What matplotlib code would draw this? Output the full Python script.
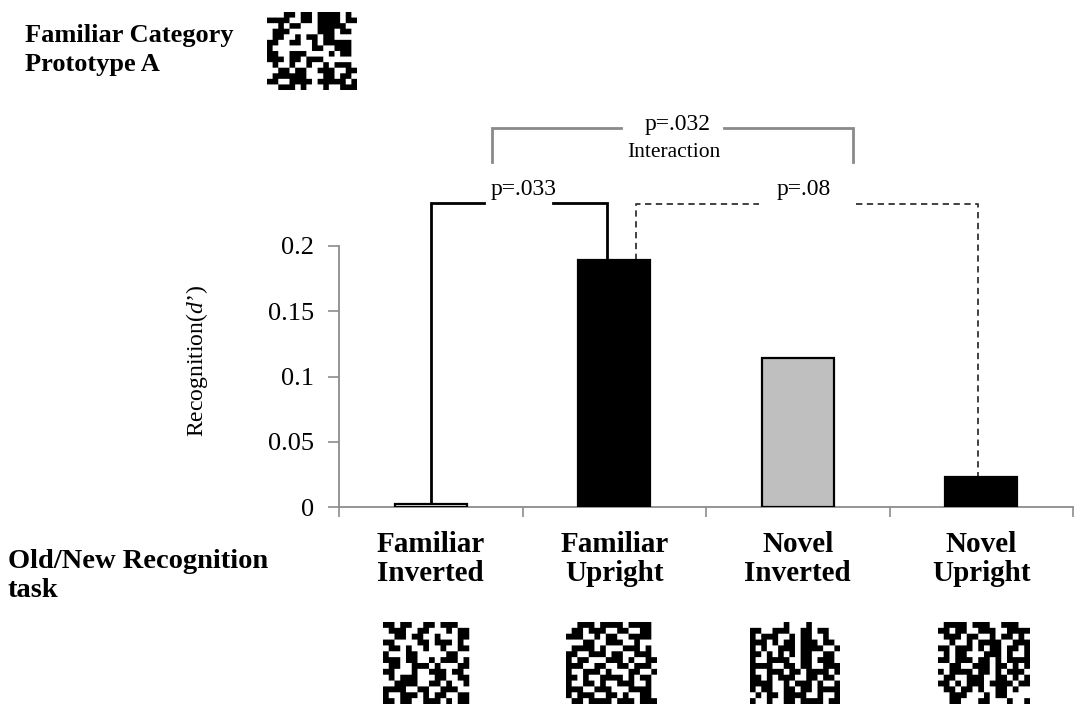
import matplotlib
matplotlib.use("Agg")
import matplotlib.pyplot as plt
import numpy as np

# Chart data
CATEGORIES = ["Familiar\nInverted", "Familiar\nUpright", "Novel\nInverted", "Novel\nUpright"]
RECOGNITION = [0.002, 0.189, 0.114, 0.023]
BAR_COLORS = ["white", "black", "#bfbfbf", "black"]
Y_TICKS = [0, 0.05, 0.1, 0.15, 0.2]
Y_TICK_LABELS = ["0", "0.05", "0.1", "0.15", "0.2"]

# significance labels
P_SIMPLE_FAMILIAR = "p=.033"
P_SIMPLE_NOVEL = "p=.08"
P_INTERACTION = "p=.032"

# stimulus images (# = black cell)
PROTOTYPE_A = [
    "...##.##.####.#.",
    "####..##.####.##",
    "..#.##...#####..",
    ".###.....###.##.",
    ".##..#.##.##....",
    "##..##..#.#####.",
    "#.......##..###.",
    "##..###....#.##.",
    "###.##.###......",
    ".#..#..#..#.###.",
    "..##.##..###..##",
    ".######...##.##.",
    "##..####.#####.#",
    "..###.#...#..###",
]
STIM_FAM_INV = [
    "##.##..##.###...",
    ".###..##...#.##.",
    "..##.##..#...##.",
    "##....##.###.#..",
    ".##.#..#..#..##.",
    "#...##.....##...",
    "###.##..#.###.#.",
    ".##..###.#...##.",
    "##...#..###.##..",
    ".#.###...##..##.",
    "..####..##.#..#.",
    "####..##..###...",
    "#..###.#.##..##.",
    "##.##..###.#.##.",
]
STIM_FAM_UP = [
    "..###.####.####.",
    ".##.###..##..##.",
    "###..#.##..####.",
    "...##..###..#...",
    ".####.#...###.#.",
    "##..###.##..###.",
    "#.##...###.#..##",
    "###..##..##.###.",
    "#..###.#...##..#",
    "##.#..####.#.##.",
    "#..##.#..###..#.",
    "###..###...####.",
    "#.###..##.#..##.",
    ".##.####.###.###",
]
STIM_NOV_INV = [
    "......#...#.....",
    "##..###..##.##..",
    "#.###..#.##..#..",
    "###.#.##.###.##.",
    "#.#..###.####..#",
    "##.#.#.#.##..##.",
    "#..####..##.###.",
    "####..##.##..###",
    "#..###.##.####.#",
    "##.#.###..##.##.",
    "####..#.###.#..#",
    "#.##..##.##.####",
    ".#.##.####..#..#",
    "#..#..##.####.##",
]
STIM_NOV_UP = [
    ".####.###..###..",
    "##.##..###..####",
    ".###.##..#.##.#.",
    "..#..#.####..###",
    "##.###.#.##.##.#",
    ".#.##...###.#..#",
    "##.###.##.#.####",
    "..##..###.##.#.#",
    "#.####.##.#.###.",
    ".##..###..##.#.#",
    "##.#.###.####.##",
    ".##.##.#..##.#..",
    "..###...#.##....",
    "..##...##...#..#",
]


def grid(rows):
    g = np.array([[c == "#" for c in r] for r in rows], dtype=float)
    # blow each cell up to a block so the smoothing stays at the edges
    return np.kron(g, np.ones((6, 6)))


W, H = 1077, 708
plt.rcParams["font.family"] = ["Liberation Serif", "DejaVu Serif"]
plt.rcParams["mathtext.fontset"] = "custom"
plt.rcParams["mathtext.rm"] = "Liberation Serif"
plt.rcParams["mathtext.it"] = "Liberation Serif:italic"

fig = plt.figure(figsize=(W / 100, H / 100), dpi=100)
fig.patch.set_facecolor("white")


def px(x0, y0, x1, y1):
    """pixel box (top-left origin) -> figure fraction rect"""
    return [x0 / W, 1 - y1 / H, (x1 - x0) / W, (y1 - y0) / H]


ax = fig.add_axes(px(339, 246, 1073, 507))
x = np.arange(len(CATEGORIES))
ax.bar(x, RECOGNITION, width=0.39, color=BAR_COLORS, edgecolor="black",
       linewidth=1.6, zorder=3)

ax.set_xlim(-0.5, 3.5)
ax.set_ylim(0, 0.2)
for side in ["top", "right"]:
    ax.spines[side].set_visible(False)
for side in ["left", "bottom"]:
    ax.spines[side].set_color("#8c8c8c")
    ax.spines[side].set_linewidth(1.3)

ax.set_yticks(Y_TICKS)
ax.set_yticklabels(Y_TICK_LABELS, fontsize=19)
ax.tick_params(axis="y", length=8, width=1.2, color="#8c8c8c", pad=10)

ax.set_xticks(np.arange(-0.5, 4, 1.0))
ax.set_xticklabels([])
ax.set_xticks(x, minor=True)
ax.set_xticklabels(CATEGORIES, minor=True, fontsize=21, fontweight="bold")
ax.tick_params(axis="x", which="major", length=7, width=1.2, color="#8c8c8c")
ax.tick_params(axis="x", which="minor", length=0, pad=17)
for lbl in ax.get_xticklabels(minor=True):
    lbl.set_linespacing(1.1)

ax.set_ylabel("Recognition$\\mathit{(d\u2019)}$", fontsize=17)
ax.yaxis.set_label_coords(-0.176, 0.56)


def bracket(xl, xr, y, yl, yr, gap, label, lx, ly, fs, **style):
    ax.plot([xl, xl, gap[0]], [yl, y, y], clip_on=False, **style)
    ax.plot([gap[1], xr, xr], [y, y, yr], clip_on=False, **style)
    ax.text(lx, ly, label, ha="center", va="center", fontsize=fs)


solid = dict(color="black", lw=2.0, solid_joinstyle="miter")
dashed = dict(color="#333333", lw=1.3, ls=(0, (3.5, 2.5)))
grey = dict(color="#8a8a8a", lw=2.0, solid_joinstyle="miter")

bracket(0.0, 0.96, 0.233, RECOGNITION[0] + 0.002, RECOGNITION[1], (0.29, 0.665),
        P_SIMPLE_FAMILIAR, 0.507, 0.243, 17, **solid)
bracket(1.117, 2.98, 0.232, RECOGNITION[1], RECOGNITION[3], (1.787, 2.316),
        P_SIMPLE_NOVEL, 2.03, 0.243, 17, **dashed)
bracket(0.336, 2.30, 0.2904, 0.2644, 0.2644, (1.035, 1.597),
        P_INTERACTION, 1.344, 0.2928, 17, **grey)
ax.text(1.325, 0.272, "Interaction", ha="center", va="center", fontsize=15.5)

# side texts
fig.text(25 / W, 1 - 50 / H, "Familiar Category\nPrototype A", ha="left",
         va="center", fontsize=19, fontweight="bold", linespacing=1.3)
fig.text(8 / W, 1 - 576 / H, "Old/New Recognition\ntask", ha="left",
         va="center", fontsize=20.5, fontweight="bold", linespacing=1.25)


# stimulus images
def stim(rows, box):
    iax = fig.add_axes(px(*box))
    iax.imshow(grid(rows), cmap="gray_r", interpolation="bilinear",
               aspect="auto", vmin=0, vmax=1)
    iax.set_axis_off()


stim(PROTOTYPE_A, (267, 12, 357, 90))
stim(STIM_FAM_INV, (383, 622, 475, 704))
stim(STIM_FAM_UP, (566, 622, 657, 704))
stim(STIM_NOV_INV, (750, 622, 840, 704))
stim(STIM_NOV_UP, (938, 622, 1030, 704))

fig.savefig("out.png", dpi=100, facecolor="white")
